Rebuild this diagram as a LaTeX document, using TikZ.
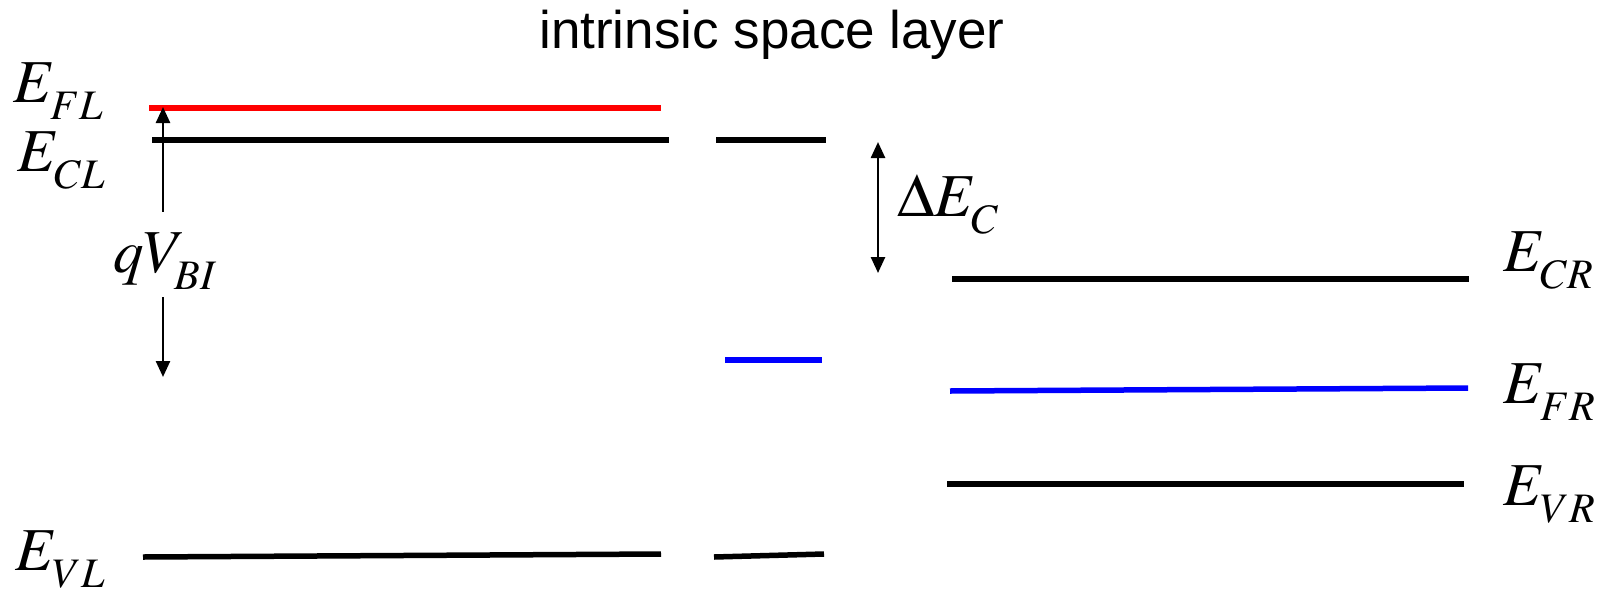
\documentclass[tikz,border=0pt]{standalone}
\usepackage{mathptmx}
\usepackage[no-math]{fontspec}
\setsansfont{Liberation Sans}
\usetikzlibrary{arrows.meta}

% level label: symbol with a low subscript
\newcommand{\lvl}[2]{$#1_{\raisebox{-8pt}{\fontsize{42}{44}\selectfont$#2$}}$}

\begin{document}
\begin{tikzpicture}[
            x=1pt, y=-1pt,
            >={Triangle[length=16pt, width=14pt]},
            lvl/.style  ={line width=5.5pt},
            arr/.style  ={->, line width=2.5pt},
            elbl/.style ={font=\fontsize{61}{72}\selectfont, inner sep=0pt, anchor=base west},
            ttl/.style  ={font=\sffamily\fontsize{53}{64}\selectfont, inner sep=0pt, anchor=base}
        ]
        \useasboundingbox (0,0) rectangle (1615,595);

        %% ---- title --------------------------------------------------------
        \node[ttl] (title) at (772,48) {intrinsic space layer};

        %% ---- left side: Fermi, conduction and valence levels ---------------
        \draw[lvl, red] (149,108) -- (661,108);
        \draw[lvl] (152,140) -- (669,140);
        \draw[lvl] (143,557) -- (661,554);
        \node[elbl] (efl) at (13,102) {\lvl{E}{FL}};
        \node[elbl] (ecl) at (17,171) {\lvl{E}{CL}};
        \node[elbl] (evl) at (15,570) {\lvl{E}{VL}};

        % built-in potential, the label splits the arrow in two
        \node[elbl, anchor=base, text height=60pt, text depth=25pt] (qvbi) at (165,272) {\lvl{qV}{BI}};
        \coordinate (qtop) at (163,107);
        \coordinate (qbot) at (163,377);
        \draw[arr] (qtop |- qvbi.north) -- (qtop);
        \draw[arr] (qbot |- qvbi.south) -- (qbot);

        %% ---- middle: short pieces in the space layer ------------------------
        \draw[lvl] (716,140) -- (826,140);
        \draw[lvl, blue] (725,360) -- (822,360);
        \draw[lvl] (714,557) -- (824,554);

        % band offset
        \coordinate (dtop) at (878,142);
        \coordinate (dbot) at (878,273);
        \draw[arr, <->] (dtop) -- (dbot);
        \node[elbl] (dec) at (897,216) {\lvl{\Delta E}{C}};

        %% ---- right side -----------------------------------------------------
        \draw[lvl] (952,279) -- (1469,279);
        \draw[lvl, blue] (950,391) -- (1468,388);
        \draw[lvl] (947,484) -- (1464,484);
        \node[elbl] (ecr) at (1503,271) {\lvl{E}{CR}};
        \node[elbl] (efr) at (1503,403) {\lvl{E}{FR}};
        \node[elbl] (evr) at (1503,505) {\lvl{E}{VR}};
    \end{tikzpicture}
\end{document}
